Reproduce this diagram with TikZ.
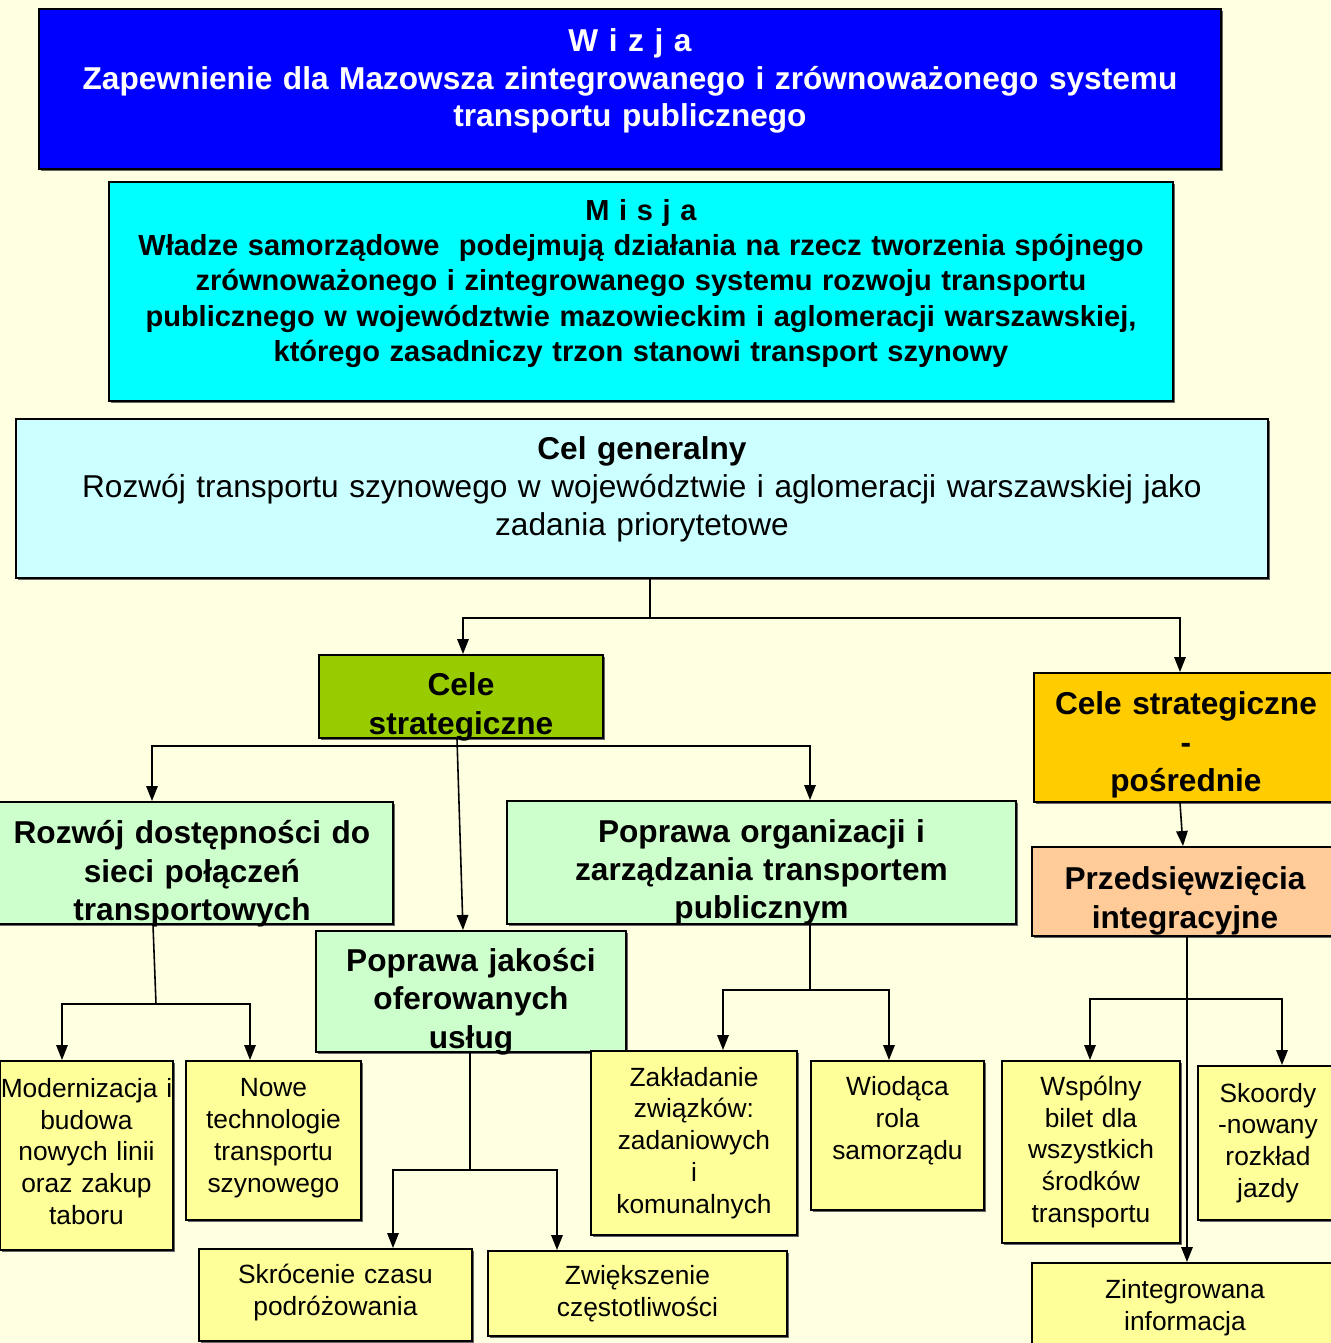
\documentclass[tikz,border=0pt]{standalone}
\usepackage{fontspec}
\setmainfont{Liberation Sans}
\usetikzlibrary{arrows.meta,positioning,shadows}

\definecolor{paper}{RGB}{255,255,225}
\definecolor{wizjablue}{RGB}{0,0,255}
\definecolor{misjacyan}{RGB}{0,255,255}
\definecolor{celcyan}{RGB}{204,255,255}
\definecolor{celegreen}{RGB}{153,204,0}
\definecolor{celeorange}{RGB}{255,204,0}
\definecolor{peach}{RGB}{255,204,153}
\definecolor{mint}{RGB}{204,255,204}
\definecolor{lemon}{RGB}{255,255,153}

\begin{document}
\begin{tikzpicture}[x=0.02cm,y=-0.02cm]
    \tikzset{
      box/.style={draw,rectangle,line width=1.1pt,align=center,inner sep=0pt,anchor=north west,
        drop shadow={shadow xshift=1.2pt,shadow yshift=-1.2pt,fill=black!60,opacity=1}},
      dims/.style 2 args={minimum width=#1*0.02cm,text width=#1*0.02cm,minimum height=#2*0.02cm},
      nudge/.style={execute at end node={\par\vspace*{#1}}},
      head/.style={font=\bfseries\fontsize{18}{21.8}\selectfont},
      goal/.style={box,fill=mint,head},
      leaf/.style={box,fill=lemon,font=\fontsize{15}{18.1}\selectfont},
      wire/.style={line width=0.9pt},
      arr/.style={wire,-{Triangle[length=3mm,width=2.3mm]}}
    }
    \useasboundingbox (0,0) rectangle (1331,1343);
    \clip (0,0) rectangle (1331,1343);
    \fill[paper] (0,0) rectangle (1331,1343);

    % top of the hierarchy
    \node[box,dims={1182}{160},fill=wizjablue,text=white,
      font=\bfseries\fontsize{18}{21.5}\selectfont,nudge=0.32cm] (wizja) at (38,8)
      {W i z j a\\Zapewnienie dla Mazowsza zintegrowanego i zrównoważonego systemu\\transportu publicznego};
    \node[box,dims={1064}{219},fill=misjacyan,
      font=\bfseries\fontsize{16.5}{20}\selectfont,nudge=0.32cm] (misja) at (108,181)
      {M i s j a\\Władze samorządowe~ podejmują działania na rzecz tworzenia spójnego\\
       zrównoważonego i zintegrowanego systemu rozwoju transportu\\
       publicznego w województwie mazowieckim i aglomeracji warszawskiej,\\
       którego zasadniczy trzon stanowi transport szynowy};
    \node[box,dims={1252}{159},fill=celcyan,
      font=\fontsize{18}{21.8}\selectfont,nudge=0.36cm] (cel) at (15,418)
      {\textbf{Cel generalny}\\Rozwój transportu szynowego w województwie i aglomeracji warszawskiej jako\\zadania priorytetowe};

    % strategic goals
    \node[box,head,dims={284}{83},fill=celegreen,nudge=-0.42cm] (cs) at (318,654)
      {Cele\\strategiczne};
    \node[box,head,dims={304}{129},fill=celeorange,nudge=-0.3cm] (csp) at (1033,672)
      {Cele strategiczne\\-\\pośrednie};
    \node[box,head,dims={306}{89},fill=peach,nudge=-0.38cm] (przed) at (1031,846)
      {Przedsięwzięcia\\integracyjne};
    \node[goal,dims={402}{122},nudge=-0.44cm] (rozwoj) at (-10,801)
      {Rozwój dostępności do\\sieci połączeń\\transportowych};
    \node[goal,dims={509}{123},nudge=-0.4cm] (org) at (506,800)
      {Poprawa organizacji i\\zarządzania transportem\\publicznym};
    \node[goal,dims={310}{121},nudge=-0.4cm] (jakosc) at (315,930)
      {Poprawa jakości\\oferowanych\\usług};

    % measures
    \node[leaf,dims={173}{189},nudge=0.16cm] (modern) at (-1,1060)
      {Modernizacja i\\budowa\\nowych linii\\oraz zakup\\taboru};
    \node[leaf,dims={175}{159},nudge=0.1cm] (nowe) at (185,1060)
      {Nowe\\technologie\\transportu\\szynowego};
    \node[leaf,dims={273}{92},nudge=0.1cm] (skroc) at (198,1248)
      {Skrócenie czasu\\podróżowania};
    \node[leaf,dims={299}{85}] (zwiek) at (487,1250)
      {Zwiększenie\\częstotliwości};
    \node[leaf,dims={206}{184}] (zaklad) at (590,1050)
      {Zakładanie\\związków:\\zadaniowych\\i\\komunalnych};
    \node[leaf,dims={173}{149},nudge=0.58cm] (wiod) at (810,1060)
      {Wiodąca\\rola\\samorządu};
    \node[leaf,dims={178}{182}] (wspol) at (1001,1060)
      {Wspólny\\bilet dla\\wszystkich\\środków\\transportu};
    \node[leaf,dims={140}{154}] (skoord) at (1197,1065)
      {Skoordy\\-nowany\\rozkład\\jazdy};
    \node[leaf,dims={306}{89}] (zint) at (1031,1262)
      {Zintegrowana\\informacja};

    % connectors
    \coordinate (j1) at (650,618);
    \coordinate (j2) at (457,746);
    \coordinate (j3) at (156,1004);
    \coordinate (j4) at (470,1170);
    \coordinate (j5) at (810,990);
    \coordinate (j6) at (1187,999);

    \draw[wire] (j1 |- cel.south) -- (j1);
    \draw[arr] (j1) -| (463,0 |- cs.north);
    \draw[arr] (j1) -| (1180,0 |- csp.north);
    \draw[arr] (1180,0 |- csp.south) -- (1183,0 |- przed.north);
    \draw[arr] (457,0 |- cs.south) -- (463,0 |- jakosc.north);
    \draw[arr] (j2) -| (152,0 |- rozwoj.north);
    \draw[arr] (j2) -| (810,0 |- org.north);
    \draw[wire] (153,0 |- rozwoj.south) -- (j3);
    \draw[arr] (j3) -| (62,0 |- modern.north);
    \draw[arr] (j3) -| (250,0 |- nowe.north);
    \draw[wire] (j4 |- jakosc.south) -- (j4);
    \draw[arr] (j4) -| (393,0 |- skroc.north);
    \draw[arr] (j4) -| (557,0 |- zwiek.north);
    \draw[wire] (j5 |- org.south) -- (j5);
    \draw[arr] (j5) -| (723,0 |- zaklad.north);
    \draw[arr] (j5) -| (889,0 |- wiod.north);
    \draw[arr] (j6 |- przed.south) -- (j6 |- zint.north);
    \draw[arr] (j6) -| (1090,0 |- wspol.north);
    \draw[arr] (j6) -| (1282,0 |- skoord.north);
\end{tikzpicture}
\end{document}
